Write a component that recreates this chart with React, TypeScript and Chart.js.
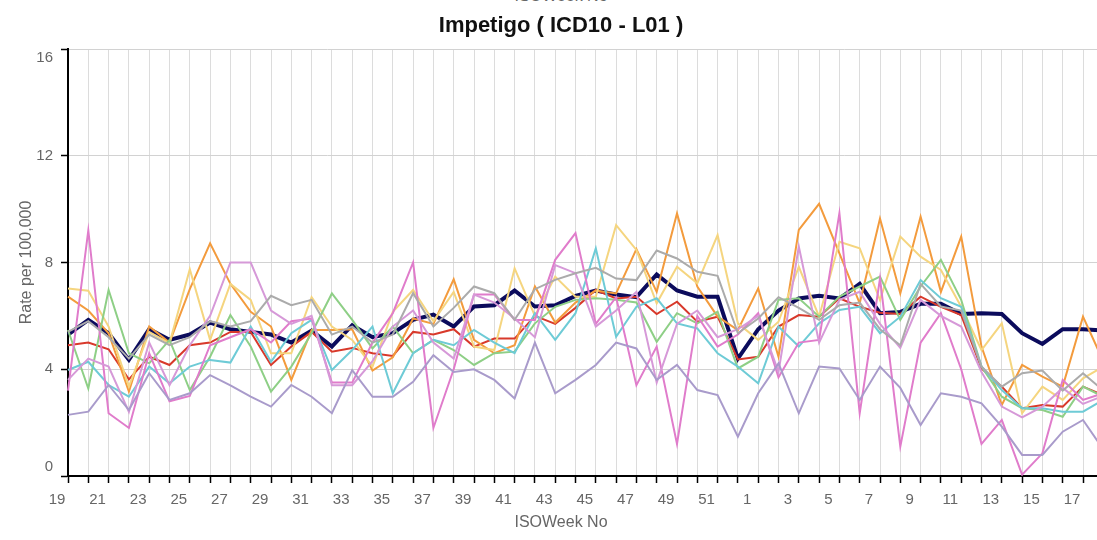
import React, { useEffect, useRef } from "react";
import { Chart, registerables } from "chart.js";

Chart.register(...registerables);

const FONT = '"Liberation Sans", Arial, sans-serif';

const weeks = [
  19, 20, 21, 22, 23, 24, 25, 26, 27, 28, 29, 30, 31, 32, 33, 34, 35, 36, 37, 38, 39, 40, 41, 42, 43, 44, 45, 46, 47, 48, 49, 50, 51, 52,
  1, 2, 3, 4, 5, 6, 7, 8, 9, 10, 11, 12, 13, 14, 15, 16, 17, 18,
];

const yTicks = [0, 4, 8, 12, 16];

const navy = [5.3, 5.85, 5.35, 4.35, 5.5, 5.1, 5.3, 5.75, 5.5, 5.4, 5.3, 5.0, 5.45, 4.85, 5.65, 5.2, 5.35, 5.85, 6.05, 5.6, 6.35, 6.4, 6.95, 6.35, 6.4, 6.75, 6.95, 6.8, 6.7, 7.55, 6.95, 6.72, 6.72, 4.4, 5.5, 6.2, 6.65, 6.75, 6.65, 7.2, 6.1, 6.15, 6.45, 6.45, 6.07, 6.1, 6.07, 5.35, 4.95, 5.5, 5.5, 5.45];
const red = [4.9, 5.0, 4.75, 3.62, 4.47, 4.16, 4.9, 5.0, 5.4, 5.4, 4.16, 4.85, 5.4, 4.66, 4.8, 4.6, 4.5, 5.4, 5.3, 5.5, 4.85, 5.15, 5.15, 6.0, 5.7, 6.3, 6.97, 6.65, 6.72, 6.07, 6.53, 5.78, 5.97, 4.37, 4.47, 5.6, 6.03, 5.97, 6.66, 6.34, 6.12, 6.07, 6.72, 6.34, 6.03, 4.03, 3.35, 2.54, 2.66, 2.6, 3.35, 3.03];
const orange = [6.72, 6.2, 5.35, 3.16, 5.6, 5.0, 7.0, 8.72, 7.2, 6.15, 5.6, 3.6, 5.47, 5.47, 5.5, 3.95, 4.45, 5.9, 5.7, 7.37, 5.1, 4.6, 4.9, 7.1, 5.75, 6.5, 6.95, 6.84, 8.5, 6.9, 9.84, 7.1, 5.97, 5.47, 7.03, 4.47, 9.22, 10.2, 8.34, 6.47, 9.65, 6.84, 9.72, 6.9, 8.97, 4.85, 2.66, 4.16, 3.72, 3.35, 5.97, 4.3];
const yellow = [7.03, 6.94, 5.6, 3.35, 5.4, 4.97, 7.75, 5.1, 7.2, 6.6, 4.6, 4.6, 6.7, 5.6, 5.1, 4.1, 6.15, 6.97, 5.8, 6.9, 4.85, 4.72, 7.78, 6.0, 7.47, 6.72, 6.72, 9.4, 8.47, 6.47, 7.84, 7.22, 9.03, 5.72, 5.1, 5.78, 7.84, 5.97, 8.78, 8.53, 6.59, 8.97, 8.22, 7.72, 6.34, 4.72, 5.72, 2.35, 3.35, 2.85, 3.66, 4.1];
const green = [5.47, 3.28, 6.97, 4.6, 4.22, 5.1, 3.22, 4.47, 6.03, 4.85, 3.16, 4.1, 5.35, 6.84, 5.85, 4.78, 5.6, 4.6, 5.1, 4.72, 4.16, 4.6, 4.66, 5.72, 6.34, 6.6, 6.66, 6.6, 6.5, 5.03, 6.1, 5.72, 6.16, 4.03, 4.47, 6.6, 6.66, 5.97, 6.72, 7.1, 7.47, 5.85, 7.1, 8.1, 6.6, 4.1, 2.97, 2.54, 2.47, 2.22, 3.35, 2.97];
const cyan = [3.97, 4.28, 3.41, 2.97, 4.1, 3.47, 4.1, 4.35, 4.25, 5.6, 4.28, 5.35, 5.85, 3.97, 4.72, 5.6, 3.1, 4.6, 5.1, 4.9, 5.47, 5.0, 4.6, 6.1, 5.1, 6.1, 8.53, 5.22, 6.34, 6.66, 5.72, 5.53, 4.6, 4.1, 3.47, 5.6, 4.85, 5.72, 6.22, 6.34, 5.35, 5.97, 7.34, 6.66, 6.34, 4.1, 3.22, 2.54, 2.54, 2.41, 2.41, 2.85];
const gray = [5.4, 5.8, 5.2, 4.4, 5.3, 4.9, 5.2, 5.8, 5.6, 5.8, 6.75, 6.4, 6.6, 5.3, 5.6, 5.0, 5.3, 6.85, 5.6, 6.3, 7.1, 6.85, 5.85, 7.0, 7.35, 7.6, 7.8, 7.4, 7.34, 8.45, 8.15, 7.65, 7.5, 5.35, 5.9, 6.7, 6.3, 5.85, 6.4, 6.5, 5.5, 4.9, 7.2, 6.35, 6.2, 4.1, 3.35, 3.85, 3.95, 3.2, 3.85, 3.2];
const magenta = [3.2, 9.2, 2.35, 1.8, 4.6, 2.8, 3.0, 4.9, 5.2, 5.5, 5.0, 5.8, 5.9, 3.5, 3.5, 5.0, 6.1, 8.0, 1.8, 4.0, 6.8, 6.8, 5.85, 5.85, 8.1, 9.1, 5.7, 6.7, 3.4, 4.85, 1.2, 6.0, 4.85, 5.3, 6.1, 3.7, 5.0, 5.1, 9.85, 2.35, 7.4, 1.1, 5.0, 6.1, 4.0, 1.2, 2.1, 0.05, 0.85, 3.6, 2.85, 3.1];
const orchid = [3.6, 4.4, 4.1, 2.4, 5.0, 3.4, 4.9, 6.0, 8.0, 8.0, 6.2, 5.7, 6.0, 3.4, 3.4, 4.3, 5.6, 6.2, 5.0, 4.4, 6.8, 6.5, 5.9, 5.2, 7.9, 7.6, 5.6, 6.2, 6.9, 3.5, 5.7, 6.2, 5.2, 5.5, 6.0, 3.9, 8.6, 5.0, 6.6, 6.9, 5.7, 4.8, 6.6, 6.0, 5.6, 3.9, 2.6, 2.2, 2.6, 3.3, 2.7, 3.0];
const lavender = [2.29, 2.41, 3.41, 2.47, 3.85, 2.85, 3.1, 3.78, 3.4, 2.97, 2.6, 3.41, 2.97, 2.35, 3.97, 2.97, 2.97, 3.53, 4.53, 3.9, 4.0, 3.6, 2.9, 5.0, 3.1, 3.6, 4.16, 5.0, 4.78, 3.6, 4.16, 3.22, 3.03, 1.47, 3.1, 4.22, 2.35, 4.1, 4.03, 2.85, 4.1, 3.3, 1.91, 3.1, 2.97, 2.72, 1.85, 0.79, 0.79, 1.66, 2.1, 1.0];

const seriesList: { data: number[]; color: string; width: number }[] = [
  { data: lavender, color: "#a99bcb", width: 2 },
  { data: gray, color: "#ababab", width: 2 },
  { data: orchid, color: "#d699d8", width: 2 },
  { data: magenta, color: "#e07ccb", width: 2 },
  { data: cyan, color: "#6ecbd6", width: 2 },
  { data: green, color: "#8ecf86", width: 2 },
  { data: yellow, color: "#f5d57f", width: 2 },
  { data: orange, color: "#f39b3d", width: 2 },
  { data: red, color: "#d8392b", width: 2 },
  { data: navy, color: "#0b0b5c", width: 4 },
];

export default function App() {
  const ref = useRef<HTMLCanvasElement>(null);

  useEffect(() => {
    if (!ref.current) return;
    Chart.defaults.font.family = FONT;
    const chart = new Chart(ref.current, {
      type: "line",
      data: {
        labels: weeks.map(String),
        datasets: seriesList.map((s) => ({
          data: s.data,
          borderColor: s.color,
          backgroundColor: s.color,
          borderWidth: s.width,
          pointRadius: 0,
          tension: 0,
          fill: false,
        })),
      },
      options: {
        responsive: false,
        animation: false,
        events: [],
        layout: { padding: 0 },
        plugins: {
          legend: { display: false },
          tooltip: { enabled: false },
          title: {
            display: true,
            text: "Impetigo ( ICD10 - L01 )",
            color: "#111",
            font: { family: FONT, size: 22, weight: "bold" },
            padding: { top: 13.1, bottom: 9.5 },
          },
          subtitle: {
            display: true,
            position: "bottom",
            text: "ISOWeek No",
            color: "#666",
            font: { family: FONT, size: 16, weight: "normal" },
            padding: { top: 0, bottom: 7.9 },
          },
        },
        scales: {
          x: {
            type: "category",
            offset: false,
            grid: {
              color: "#dcdcdc",
              lineWidth: 1,
              tickColor: "#000",
              tickLength: 7,
              tickWidth: 1.5,
              offset: false,
            },
            border: { color: "#000", width: 2 },
            ticks: {
              autoSkip: false,
              maxRotation: 0,
              minRotation: 0,
              padding: 8,
              labelOffset: -11,
              color: "#666",
              font: { family: FONT, size: 15 },
              callback: (_v: any, i: number) => (weeks[i] % 2 === 1 ? String(weeks[i]) : ""),
            },
            afterFit: (s: any) => {
              s.height = 36.9;
              s.paddingLeft = 0;
              s.paddingRight = 18.7;
            },
          },
          y: {
            min: 0,
            max: 16,
            afterBuildTicks: (s: any) => {
              s.ticks = yTicks.map((v) => ({ value: v }));
            },
            ticks: {
              padding: 8,
              color: "#666",
              font: { family: FONT, size: 15 },
              callback: (v: any) => {
                const n = Number(v);
                if (n === yTicks[yTicks.length - 1]) return ["", String(n)];
                if (n === yTicks[0]) return [String(n), ""];
                return String(n);
              },
            },
            grid: { color: "#d2d2d2", lineWidth: 1, tickColor: "#000", tickLength: 7, tickWidth: 1.5 },
            border: { color: "#000", width: 2 },
            title: {
              display: true,
              text: "Rate per 100,000",
              color: "#666",
              font: { family: FONT, size: 16 },
              padding: { top: 17.4, bottom: 0 },
            },
            afterFit: (s: any) => {
              s.width = 68;
            },
          },
        },
      } as any,
    });
    return () => chart.destroy();
  }, []);

  return (
    <div
      style={{
        position: "fixed",
        left: 0,
        top: 0,
        width: 1097,
        height: 540,
        overflow: "hidden",
        background: "#fff",
      }}
    >
      <div
        style={{
          position: "absolute",
          left: 0,
          top: -14,
          width: 1122,
          textAlign: "center",
          fontFamily: FONT,
          fontSize: 16,
          lineHeight: "19px",
          color: "#666",
        }}
      >
        ISOWeek No
      </div>
      <canvas ref={ref} width={1122} height={540} style={{ position: "absolute", left: 0, top: 0 }} />
    </div>
  );
}
